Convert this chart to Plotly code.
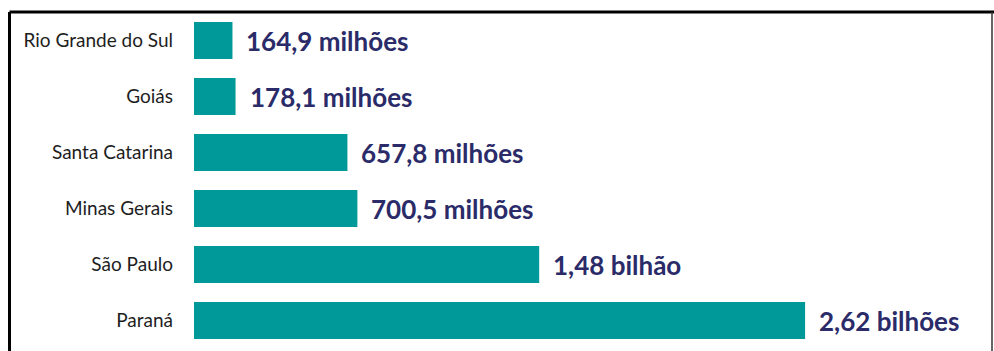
import plotly.graph_objects as go

# Valores por estado, em milhões de reais
estados = ["Rio Grande do Sul", "Goiás", "Santa Catarina", "Minas Gerais", "São Paulo", "Paraná"]
valores = [164.9, 178.1, 657.8, 700.5, 1480.0, 2620.0]
rotulos = ["164,9 milhões", "178,1 milhões", "657,8 milhões", "700,5 milhões", "1,48 bilhão", "2,62 bilhões"]

W, H = 994, 351
TEAL = "#009999"
NAVY = "#2a2b68"

fig = go.Figure(
    go.Bar(
        x=valores,
        y=estados,
        orientation="h",
        marker=dict(color=TEAL, line=dict(width=0)),
        hoverinfo="skip",
    )
)

# Rótulos de valor à direita de cada barra
for est, val, rot in zip(estados, valores, rotulos):
    fig.add_annotation(
        x=val, y=est, text=rot, showarrow=False,
        xanchor="left", yanchor="middle", xshift=12,
        font=dict(family="Lato", size=26, color=NAVY, weight="bold"),
    )

# Moldura preta em volta do gráfico
frame = dict(type="line", xref="paper", yref="paper", line=dict(color="black", width=3), layer="above")
fig.add_shape(**frame, x0=9.5 / W, x1=1, y0=1 - 12 / H, y1=1 - 12 / H)
fig.add_shape(**frame, x0=9.5 / W, x1=9.5 / W, y0=0, y1=1 - 12 / H)
fig.add_shape(type="line", xref="paper", yref="paper", x0=992 / W, x1=992 / W, y0=0, y1=1 - 12 / H,
              line=dict(color="#333333", width=1.5))

fig.update_layout(
    width=W, height=H,
    margin=dict(l=0, r=0, t=0, b=0),
    paper_bgcolor="white", plot_bgcolor="white",
    showlegend=False,
    bargap=0.34,
    xaxis=dict(
        domain=[194 / W, 1], range=[0, 3430],
        visible=False, fixedrange=True,
    ),
    yaxis=dict(
        domain=[(H - 348.5) / H, (H - 12.5) / H],
        autorange="reversed",
        categoryorder="array", categoryarray=estados,
        showgrid=False, zeroline=False, showline=False,
        ticks="", ticklabelstandoff=20, automargin=False,
        tickfont=dict(family="Lato", size=19, color="#1e1e1e"),
    ),
)

fig.write_html("out.html")
